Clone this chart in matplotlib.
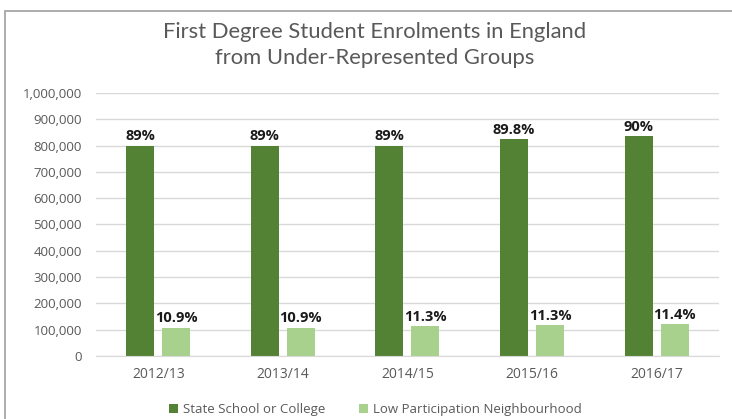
import numpy as np
import matplotlib.pyplot as plt
from matplotlib.patches import Rectangle
from matplotlib.ticker import FuncFormatter

years = ['2012/13', '2013/14', '2014/15', '2015/16', '2016/17']
state_school = [800000, 800000, 800000, 825000, 835000]
low_participation = [108000, 108000, 114000, 118000, 123000]
state_labels = ['89%', '89%', '89%', '89.8%', '90%']
low_labels = ['10.9%', '10.9%', '11.3%', '11.3%', '11.4%']

dark = '#548235'
light = '#a9d18e'
grey = '#595959'

fig = plt.figure(figsize=(7.32, 4.19), dpi=100)
ax = fig.add_axes([0.1311, 0.1504, 0.8511, 0.6277])

x = np.arange(len(years))
w = 0.225
gap = 0.032
ax.bar(x - w/2 - gap, state_school, w, color=dark, label='State School or College', zorder=2)
ax.bar(x + w/2 + gap, low_participation, w, color=light, label='Low Participation Neighbourhood', zorder=2)

for i in range(len(years)):
    ax.text(x[i] - w/2 - gap, state_school[i] + 8000, state_labels[i], ha='center', va='bottom',
            fontsize=10.5, fontweight='bold', family='Open Sans', color='#1a1a1a', zorder=3,
            bbox=dict(facecolor='white', edgecolor='none', pad=0.5))
    ax.text(x[i] + w/2 + gap, low_participation[i] + 8000, low_labels[i], ha='center', va='bottom',
            fontsize=10.5, fontweight='bold', family='Open Sans', color='#1a1a1a', zorder=3,
            bbox=dict(facecolor='white', edgecolor='none', pad=0.5))

ax.set_xlim(-0.5, len(years) - 0.5)
ax.set_ylim(0, 1000000)
ax.set_yticks(np.arange(0, 1000001, 100000))
ax.yaxis.set_major_formatter(FuncFormatter(lambda v, p: '{:,.0f}'.format(v)))
ax.set_xticks(x)
ax.set_xticklabels(years)
ax.grid(axis='y', color='#d9d9d9', linewidth=1, zorder=0)
ax.set_axisbelow(True)
for s in ['top', 'right', 'left']:
    ax.spines[s].set_visible(False)
ax.spines['bottom'].set_color('#d9d9d9')
ax.tick_params(axis='both', length=0, colors=grey)
ax.tick_params(axis='y', pad=10, labelsize=9.5)
ax.tick_params(axis='x', pad=8, labelsize=10)
for lab in ax.get_xticklabels() + ax.get_yticklabels():
    lab.set_family('Open Sans')

fig.text(0.512, 0.892, 'First Degree Student Enrolments in England\nfrom Under-Represented Groups',
         ha='center', va='center', fontsize=15.8, family='Lato', color=grey, linespacing=1.4)

leg = fig.legend(loc='center', bbox_to_anchor=(0.513, 0.022), ncol=2, frameon=False,
                 handlelength=0.7, handleheight=0.7, columnspacing=2.5, handletextpad=0.4,
                 prop={'family': 'Open Sans', 'size': 9.5})
for t in leg.get_texts():
    t.set_color(grey)

fig.patches.append(Rectangle((5/732, -0.1), 1.1, 1.1 - 11.5/419, transform=fig.transFigure,
                             fill=False, edgecolor='#a6a6a6', linewidth=1.3))

fig.savefig('out.png', dpi=100)
